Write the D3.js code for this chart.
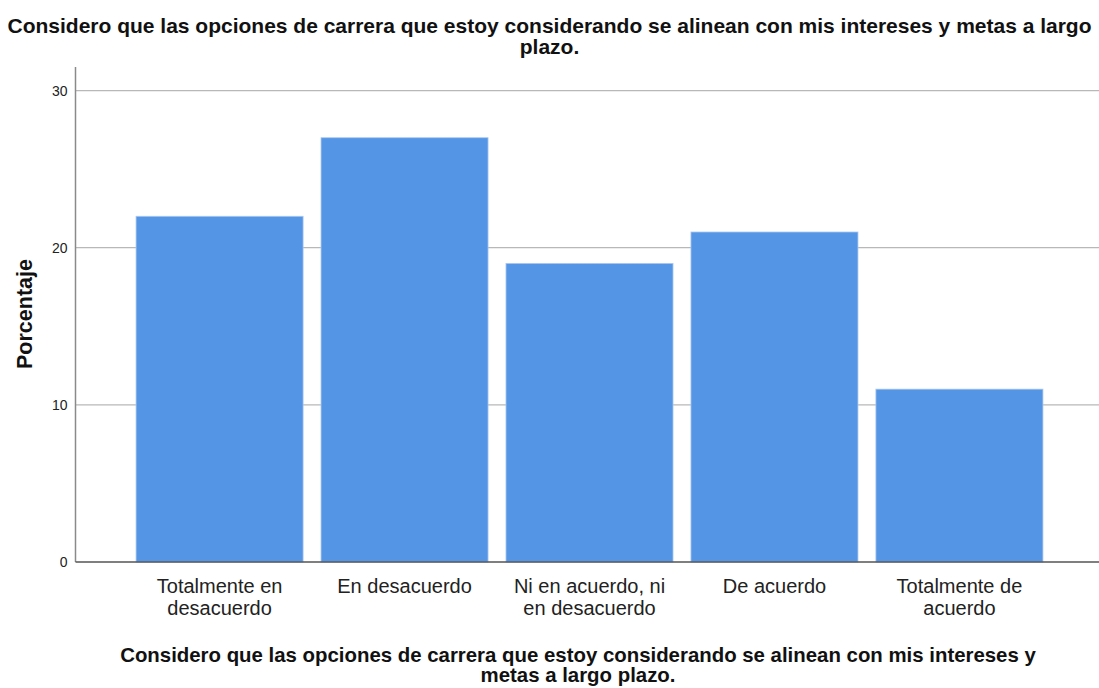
<!DOCTYPE html>
<html>
<head>
<meta charset="utf-8">
<script src="https://cdn.jsdelivr.net/npm/d3@7/dist/d3.min.js"></script>
<style>
  html, body { margin: 0; padding: 0; background: #fff; }
  svg { display: block; font-family: "Liberation Sans", Arial, sans-serif; }
</style>
</head>
<body>
<svg id="chart" width="1099" height="688"></svg>
<script>
// Percentage of responses for each agreement level
const categories = [
  ["Totalmente en", "desacuerdo"],
  ["En desacuerdo"],
  ["Ni en acuerdo, ni", "en desacuerdo"],
  ["De acuerdo"],
  ["Totalmente de", "acuerdo"]
];
const values = [22, 27, 19, 21, 11];
const yTicks = [0, 10, 20, 30];
const titleLines = ["Considero que las opciones de carrera que estoy considerando se alinean con mis intereses y metas a largo", "plazo."];
const xTitleLines = ["Considero que las opciones de carrera que estoy considerando se alinean con mis intereses y", "metas a largo plazo."];
const yTitle = "Porcentaje";

const svg = d3.select("#chart");
const W = 1099, H = 688;
const plot = { left: 75.5, right: 1099, top: 67, bottom: 562 };

const keys = categories.map(c => c.join(" "));
const x = d3.scaleBand().domain(keys).range([127, 1052]).paddingInner(0.097).paddingOuter(0.049);
const y = d3.scaleLinear().domain([0, 31.5]).range([plot.bottom, plot.top]);

// Gridlines
svg.append("g").selectAll("line").data(yTicks.filter(t => t > 0)).join("line")
  .attr("x1", plot.left).attr("x2", plot.right)
  .attr("y1", d => y(d)).attr("y2", d => y(d))
  .attr("stroke", "#b8b8b8").attr("stroke-width", 1.2);

// Bars
svg.append("g").selectAll("rect").data(values).join("rect")
  .attr("x", (d, i) => x(keys[i]))
  .attr("y", d => y(d))
  .attr("width", x.bandwidth())
  .attr("height", d => y(0) - y(d))
  .attr("fill", "#5595e5")
  .attr("stroke", "#a9c8f0").attr("stroke-width", 0.8);

// Y axis
const yAxis = svg.append("g").attr("transform", `translate(${plot.left},0)`)
  .call(d3.axisLeft(y).tickValues(yTicks).tickSize(0).tickPadding(8));
yAxis.attr("font-size", 14);
yAxis.select(".domain").attr("stroke", "#8a8a8a").attr("stroke-width", 1.5)
  .attr("d", `M0,${plot.top}V${plot.bottom}`);
yAxis.selectAll("text").attr("font-size", 14).attr("fill", "#222")
  .attr("font-family", "Liberation Sans, Arial, sans-serif");

// Baseline
svg.append("line")
  .attr("x1", plot.left).attr("x2", plot.right)
  .attr("y1", y(0)).attr("y2", y(0))
  .attr("stroke", "#555").attr("stroke-width", 1.5);

// Category labels
const xAxis = svg.append("g").attr("transform", `translate(0,${plot.bottom})`)
  .call(d3.axisBottom(x).tickSize(0).tickFormat(() => ""));
xAxis.select(".domain").remove();
xAxis.selectAll(".tick text").each(function(d, i) {
  const t = d3.select(this).attr("y", 0).attr("dy", null)
    .attr("font-size", 20).attr("fill", "#222")
    .attr("font-family", "Liberation Sans, Arial, sans-serif");
  categories[i].forEach((line, j) => {
    t.append("tspan").attr("x", 0).attr("y", 31 + j * 22).text(line);
  });
});

// Chart title
svg.append("g").selectAll("text").data(titleLines).join("text")
  .attr("x", W / 2).attr("y", (d, i) => 33 + i * 21)
  .attr("text-anchor", "middle")
  .attr("font-size", 21).attr("font-weight", "bold").attr("fill", "#111")
  .each(function(d, i) {
    if (i === 0) d3.select(this).attr("textLength", 1084).attr("lengthAdjust", "spacingAndGlyphs");
  })
  .text(d => d);

// X axis title
svg.append("g").selectAll("text").data(xTitleLines).join("text")
  .attr("x", 578).attr("y", (d, i) => 662 + i * 20)
  .attr("text-anchor", "middle")
  .attr("font-size", 20.4).attr("font-weight", "bold").attr("fill", "#111")
  .text(d => d);

// Y axis title
svg.append("text")
  .attr("transform", `translate(31.5,314) rotate(-90)`)
  .attr("text-anchor", "middle")
  .attr("font-size", 21.5).attr("font-weight", "bold").attr("fill", "#111")
  .text(yTitle);
</script>
</body>
</html>
